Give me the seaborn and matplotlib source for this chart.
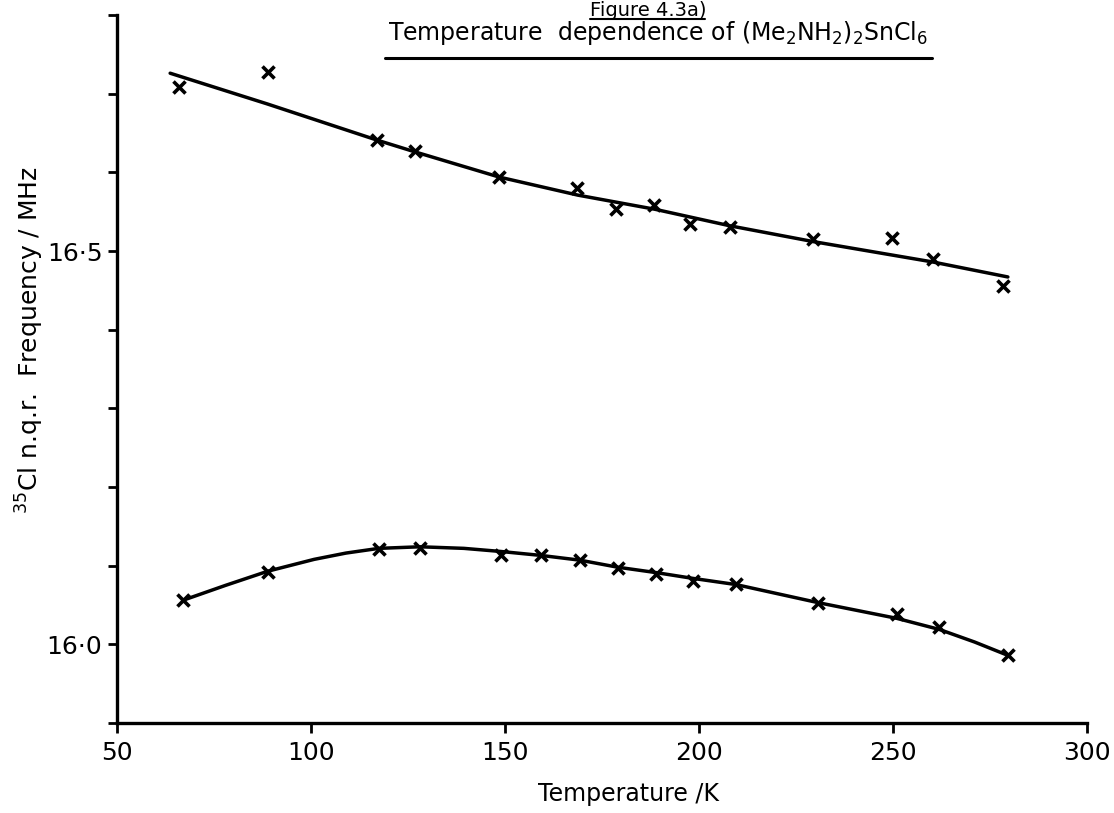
import numpy as np
import pandas as pd
import matplotlib
matplotlib.use("Agg")
import matplotlib.pyplot as plt
from matplotlib.lines import Line2D
import seaborn as sns

# ---- data ----
upper_T = [66.0, 88.8, 117.0, 126.8, 148.5, 168.6, 178.6, 188.5, 197.7, 208.0, 229.4, 249.7, 260.3, 278.4]
upper_f = [16.708, 16.728, 16.641, 16.627, 16.594, 16.580, 16.554, 16.558, 16.534, 16.531, 16.515, 16.516, 16.490, 16.456]

lower_T = [67.0, 88.9, 117.4, 128.1, 149.0, 159.3, 169.3, 179.1, 188.9, 198.5, 209.5, 230.7, 251.0, 261.9, 279.6]
lower_f = [16.056, 16.092, 16.121, 16.123, 16.113, 16.113, 16.107, 16.097, 16.090, 16.080, 16.077, 16.053, 16.038, 16.022, 15.986]

# hand-drawn smooth curves (knots)
upper_curve_T = [63.7, 88.7, 117.0, 126.8, 148.5, 168.8, 188.7, 208.0, 229.4, 260.3, 279.6]
upper_curve_f = [16.726, 16.687, 16.641, 16.626, 16.594, 16.571, 16.553, 16.532, 16.512, 16.486, 16.467]

lower_curve_T = [67.0, 78.0, 88.9, 100.8, 109.0, 117.5, 128.1, 139.4, 149.0, 159.3, 169.3, 179.1, 189.2, 198.2, 209.5, 230.7, 251.0, 261.9, 271.0, 279.6]
lower_curve_f = [16.056, 16.075, 16.093, 16.108, 16.116, 16.122, 16.124, 16.122, 16.118, 16.113, 16.107, 16.098, 16.091, 16.084, 16.076, 16.053, 16.033, 16.019, 16.003, 15.986]

x_ticks = [50, 100, 150, 200, 250, 300]
y_ticks = [15.9, 16.0, 16.1, 16.2, 16.3, 16.4, 16.5, 16.6, 16.7, 16.8]
y_tick_labels = ["", "16·0", "", "", "", "", "16·5", "", "", ""]

title_line1 = "Figure 4.3a)"
title_line2 = r"Temperature  dependence of (Me$_2$NH$_2$)$_2$SnCl$_6$"
x_label = "Temperature /K"
y_label = r"$^{35}$Cl n.q.r.  Frequency / MHz"

# ---- plotting ----
sns.set_theme(style="ticks")
plt.rcParams["font.family"] = ["DejaVu Sans"]
plt.rcParams["mathtext.fontset"] = "dejavusans"

fig = plt.figure(figsize=(11.14, 8.13), dpi=100)
ax = fig.add_axes([117 / 1114, 1 - 723 / 813, (1087 - 117) / 1114, (723 - 15) / 813])

pts_u = pd.DataFrame({"T": upper_T, "f": upper_f})
pts_l = pd.DataFrame({"T": lower_T, "f": lower_f})
cur_u = pd.DataFrame({"T": upper_curve_T, "f": upper_curve_f})
cur_l = pd.DataFrame({"T": lower_curve_T, "f": lower_curve_f})

for cur in (cur_u, cur_l):
    sns.lineplot(data=cur, x="T", y="f", ax=ax, color="black", linewidth=2.5,
                 sort=False, estimator=None)
for pts in (pts_u, pts_l):
    sns.scatterplot(data=pts, x="T", y="f", ax=ax, marker="x", color="black",
                    s=75, linewidth=2.6, zorder=3)

ax.set_xlim(50, 300)
ax.set_ylim(15.9, 16.8)
ax.set_xticks(x_ticks)
ax.set_xticklabels([str(t) for t in x_ticks])
ax.set_yticks(y_ticks)
ax.set_yticklabels(y_tick_labels)

for s in ["top", "right"]:
    ax.spines[s].set_visible(False)
for s in ["left", "bottom"]:
    ax.spines[s].set_linewidth(2.4)
    ax.spines[s].set_color("black")

ax.tick_params(axis="x", direction="out", length=7, width=2.0, labelsize=18, pad=6, colors="black")
ax.tick_params(axis="y", direction="out", length=6.5, width=2.0, labelsize=18, pad=4, colors="black")

ax.set_xlabel(x_label, fontsize=17, color="black")
ax.xaxis.set_label_coords(0.527, -0.083)
ax.set_ylabel(y_label, fontsize=18, color="black")
ax.yaxis.set_label_coords(-0.073, 0.54)

fig.text(648 / 1114, 1 - 1 / 813, title_line1, ha="center", va="top", fontsize=14, color="black")
fig.text(658 / 1114, 1 - 33 / 813, title_line2, ha="center", va="center", fontsize=17, color="black")
fig.add_artist(Line2D([385 / 1114, 932 / 1114], [1 - 58 / 813, 1 - 58 / 813],
                      transform=fig.transFigure, color="black", linewidth=2.2))
fig.add_artist(Line2D([590 / 1114, 705 / 1114], [1 - 19 / 813, 1 - 19 / 813],
                      transform=fig.transFigure, color="black", linewidth=1.5))

fig.savefig("out.png", dpi=100, facecolor="white")
